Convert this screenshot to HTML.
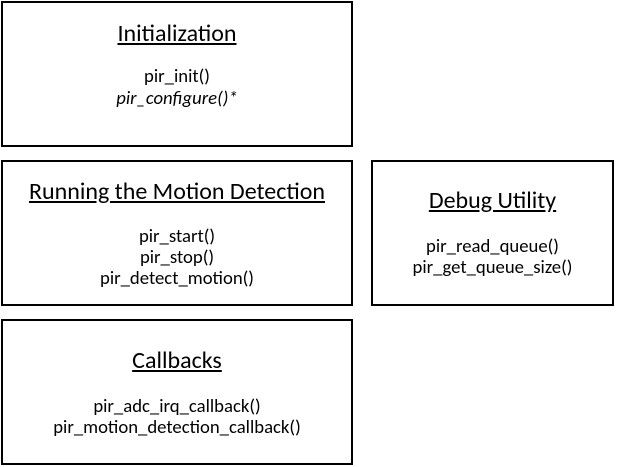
<!DOCTYPE html>
<html><head><meta charset="utf-8"><style>
body{margin:0;width:617px;height:467px;background:#fff;position:relative;font-family:"Carlito","Liberation Sans",sans-serif;color:#000;overflow:hidden}
.box{position:absolute;border:2px solid #000;box-sizing:border-box}
.t{position:absolute;left:0;right:0;text-align:center;font-size:24px;text-decoration:underline;line-height:26px;white-space:nowrap}
.l{position:absolute;left:0;right:0;text-align:center;font-size:18.7px;line-height:21px;white-space:nowrap}
</style></head><body>
<div class="box" style="left:1px;top:1px;width:352px;height:146px">
 <div class="t" style="top:18px">Initialization</div>
 <div class="l" style="top:63px">pir_init()</div>
 <div class="l" style="top:85px;font-style:italic">pir_configure()*</div>
</div>
<div class="box" style="left:1px;top:160px;width:352px;height:146px">
 <div class="t" style="top:17px">Running the Motion Detection</div>
 <div class="l" style="top:64px">pir_start()</div>
 <div class="l" style="top:85px">pir_stop()</div>
 <div class="l" style="top:106px">pir_detect_motion()</div>
</div>
<div class="box" style="left:371px;top:160px;width:243px;height:146px">
 <div class="t" style="top:26px">Debug Utility</div>
 <div class="l" style="top:74px">pir_read_queue()</div>
 <div class="l" style="top:95px">pir_get_queue_size()</div>
</div>
<div class="box" style="left:1px;top:319px;width:352px;height:146px">
 <div class="t" style="top:27px">Callbacks</div>
 <div class="l" style="top:75px">pir_adc_irq_callback()</div>
 <div class="l" style="top:96px">pir_motion_detection_callback()</div>
</div>
</body></html>
